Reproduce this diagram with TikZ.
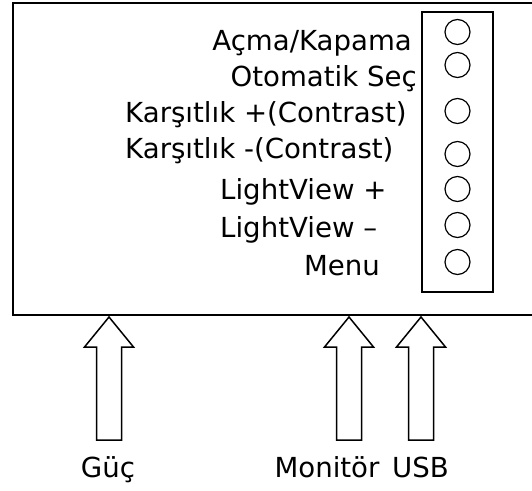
\documentclass[tikz,border=0pt]{standalone}
\usepackage{fontspec}
\setmainfont{DejaVu Sans}
\begin{document}
\begin{tikzpicture}[x=1pt,y=-1pt,
  frame/.style={draw=black,line width=1.7pt},
  button/.style={circle,draw=black,line width=1.2pt,minimum size=25pt,inner sep=0pt},
  lbl/.style={inner sep=0pt,font=\fontsize{27.6}{33}\selectfont},
  uparrow/.pic={\draw[black,line width=1.5pt,line join=miter]
      (0,0) -- (24.5,30) -- (12.5,30) -- (12.5,123) -- (-12.5,123)
      -- (-12.5,30) -- (-24.5,30) -- cycle;}]
\clip (0,0) rectangle (532,490);

% monitor housing (right side runs off the page)
\draw[frame] (13,3) rectangle (560,315);

% button panel
\node[frame,draw,minimum width=71.5pt,minimum height=280pt,inner sep=0pt] (panel) at (457.5,152) {};

% buttons
\node[button] (b1) at (457.5,32) {};
\node[button] (b2) at (457.5,65) {};
\node[button] (b3) at (457.5,111) {};
\node[button] (b4) at (457.5,154) {};
\node[button] (b5) at (457.5,189) {};
\node[button] (b6) at (457.5,225) {};
\node[button] (b7) at (457.5,262) {};

% button labels
\node[lbl,anchor=base east] (l1) at (412,50) {Açma/Kapama};
\node[lbl,anchor=base east] (l2) at (417,86) {Otomatik Seç};
\node[lbl,anchor=base west] (l3) at (125,122) {Karşıtlık +(Contrast)};
\node[lbl,anchor=base west] (l4) at (125,158) {Karşıtlık -(Contrast)};
\node[lbl,anchor=base west] (l5) at (220,199) {LightView +};
\node[lbl,anchor=base west] (l6) at (220,237) {LightView –};
\node[lbl,anchor=base east] (l7) at (380,275) {Menu};

% connector arrows
\coordinate (pw) at (109,317);
\coordinate (mon) at (349,317);
\coordinate (usb) at (421,317);
\pic at (pw) {uparrow};
\pic at (mon) {uparrow};
\pic at (usb) {uparrow};

\node[lbl,anchor=base] (tpw) at (108,477) {Güç};
\node[lbl,anchor=base] (tmon) at (327,477) {Monitör};
\node[lbl,anchor=base] (tusb) at (420.5,477) {USB};
\end{tikzpicture}
\end{document}
